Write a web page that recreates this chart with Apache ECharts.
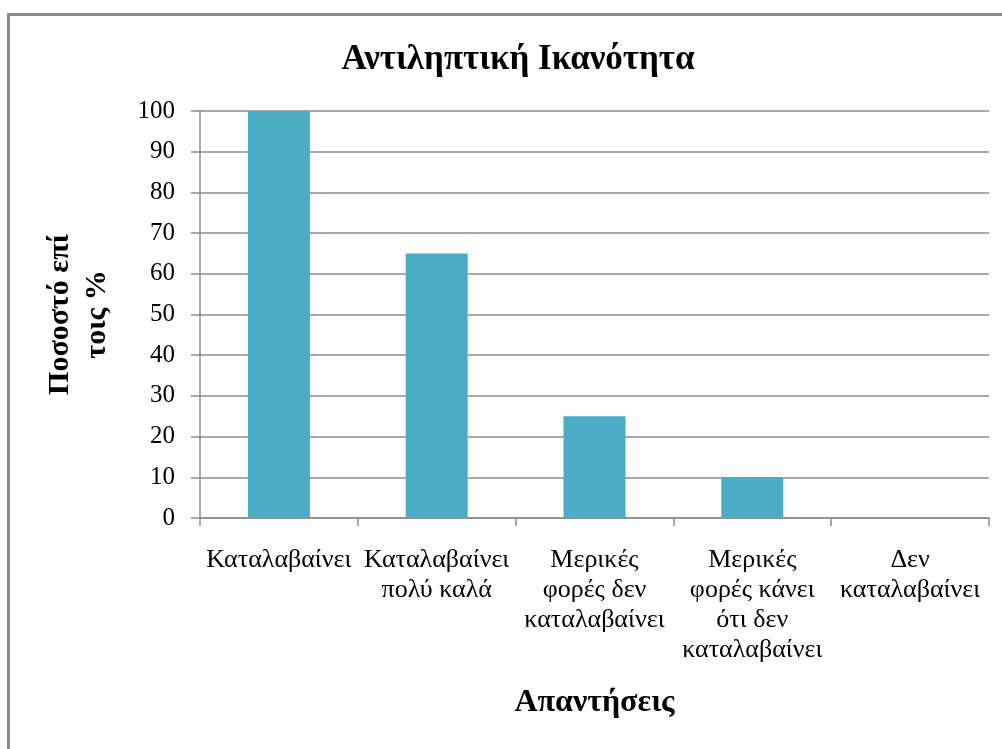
<!DOCTYPE html>
<html>
<head>
<meta charset="utf-8">
<script src="https://cdn.jsdelivr.net/npm/echarts@6/dist/echarts.min.js"></script>
<style>html,body{margin:0;padding:0;background:#fff}#c{width:1002px;height:749px}</style>
</head>
<body>
<div id="c"></div>
<script>
const title = 'Αντιληπτική Ικανότητα';
const categories = ['Καταλαβαίνει', 'Καταλαβαίνει\nπολύ καλά', 'Μερικές\nφορές δεν\nκαταλαβαίνει', 'Μερικές\nφορές κάνει\nότι δεν\nκαταλαβαίνει', 'Δεν\nκαταλαβαίνει'];
const values = [100, 65, 25, 10, 0];
const yTicks = [0, 10, 20, 30, 40, 50, 60, 70, 80, 90, 100];
const yName = 'Ποσοστό επί\nτοις %';
const xName = 'Απαντήσεις';

const serif = '"Liberation Serif", "DejaVu Serif", serif';
const chart = echarts.init(document.getElementById('c'), null, {renderer: 'canvas'});
chart.setOption({
  animation: false,
  backgroundColor: '#fff',
  graphic: [{
    type: 'rect', left: 6, top: 12, z: 100,
    shape: {width: 1100, height: 800},
    style: {fill: 'none', stroke: '#8a8a8a', lineWidth: 3}
  }],
  title: {
    text: title, left: 513, top: 37, textAlign: 'center',
    textStyle: {fontFamily: serif, fontWeight: 'bold', fontSize: 35, color: '#000'}
  },
  grid: {left: 200, right: 13, top: 111, bottom: 231, containLabel: false},
  xAxis: {
    type: 'category', data: categories,
    name: xName, nameLocation: 'middle', nameGap: 169,
    nameTextStyle: {fontFamily: serif, fontWeight: 'bold', fontSize: 32, color: '#000'},
    axisLine: {lineStyle: {color: '#8c8c8c', width: 1.5}},
    axisTick: {show: true, length: 8, alignWithLabel: false, lineStyle: {color: '#8c8c8c', width: 1.5}},
    axisLabel: {fontFamily: serif, fontSize: 26, color: '#000', lineHeight: 30, margin: 27, interval: 0}
  },
  yAxis: {
    type: 'value', min: 0, max: 100, interval: 10,
    name: yName, nameLocation: 'middle', nameGap: 84, nameRotate: 90,
    nameTextStyle: {fontFamily: serif, fontWeight: 'bold', fontSize: 30, color: '#000', lineHeight: 37},
    axisLine: {show: true, lineStyle: {color: '#8c8c8c', width: 1.5}},
    axisTick: {show: true, length: 9, lineStyle: {color: '#8c8c8c', width: 1.5}},
    splitLine: {show: true, lineStyle: {color: '#8c8c8c', width: 1.5}},
    axisLabel: {fontFamily: serif, fontSize: 25, color: '#000', margin: 25,
      formatter: v => yTicks.includes(v) ? String(v) : ''}
  },
  series: [{
    type: 'bar', data: values, barWidth: 62,
    itemStyle: {color: '#4bacc6'}
  }]
});
</script>
</body>
</html>
